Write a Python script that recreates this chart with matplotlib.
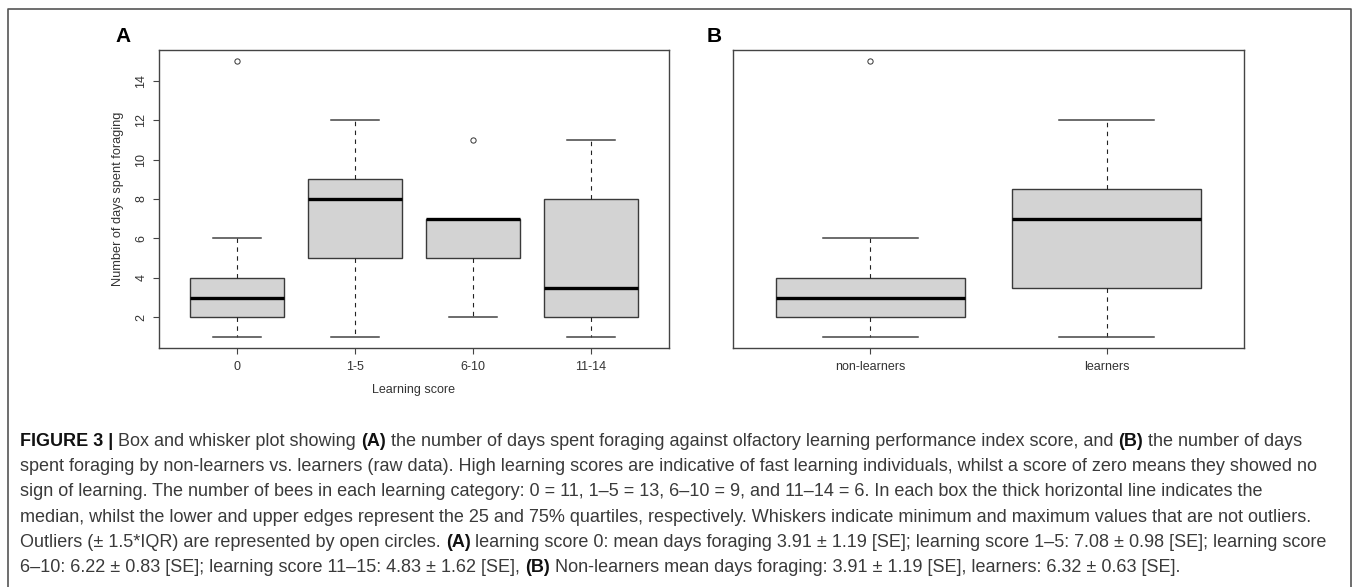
import matplotlib
matplotlib.use("Agg")
import matplotlib.pyplot as plt
from matplotlib.lines import Line2D

plt.rcParams['font.family'] = ['Liberation Sans', 'DejaVu Sans']

# panel A: days spent foraging per learning score group
score_groups = ["0", "1-5", "6-10", "11-14"]
a_low = [1, 1, 2, 1]
a_q1 = [2, 5, 5, 2]
a_med = [3, 8, 7, 3.5]
a_q3 = [4, 9, 7, 8]
a_high = [6, 12, 7, 11]
a_outliers = [[15], [], [11], []]

# panel B: non-learners vs learners
b_groups = ["non-learners", "learners"]
b_low = [1, 1]
b_q1 = [2, 3.5]
b_med = [3, 7]
b_q3 = [4, 8.5]
b_high = [6, 12]
b_outliers = [[15], []]

y_ticks = [2, 4, 6, 8, 10, 12, 14]

W, H = 1357, 587
fig = plt.figure(figsize=(W / 100, H / 100), dpi=100)


def px_axes(left, top, right, bottom):
    return fig.add_axes([left / W, 1 - bottom / H, (right - left) / W, (bottom - top) / H])


def stats(low, q1, med, q3, high, fl):
    return [dict(whislo=low[i], q1=q1[i], med=med[i], q3=q3[i], whishi=high[i], fliers=fl[i])
            for i in range(len(med))]


def draw_box(ax, st, names):
    ax.bxp(st, positions=range(1, len(st) + 1), widths=0.8, patch_artist=True,
           boxprops=dict(facecolor='#d3d3d3', edgecolor='#3a3a3a', linewidth=1.0),
           medianprops=dict(color='black', linewidth=2.4, solid_capstyle='butt'),
           whiskerprops=dict(color='#222222', linewidth=0.8, linestyle=(0, (4, 4))),
           capprops=dict(color='#444444', linewidth=1.1),
           capwidths=0.4,
           flierprops=dict(marker='o', markersize=3.8, markerfacecolor='none',
                           markeredgecolor='#333333', markeredgewidth=0.7))
    ax.set_xlim(0.5 - 0.04 * len(st), len(st) + 0.5 + 0.04 * len(st))
    ax.set_ylim(0.44, 15.56)
    ax.set_xticks(range(1, len(st) + 1))
    ax.set_xticklabels(names)
    for s in ax.spines.values():
        s.set_color('#444444')
        s.set_linewidth(1.0)
    ax.tick_params(axis='x', direction='out', length=4.5, width=0.8, color='#444444',
                   labelsize=9, labelcolor='#333333', pad=5)


axA = px_axes(159, 50, 669, 348)
draw_box(axA, stats(a_low, a_q1, a_med, a_q3, a_high, a_outliers), score_groups)
axA.set_yticks(y_ticks)
axA.tick_params(axis='y', direction='out', length=4.5, width=0.8, color='#444444',
                labelsize=9, labelcolor='#333333', pad=4, labelrotation=90)
for lab in axA.get_yticklabels():
    lab.set_va('center')
axA.set_ylabel("Number of days spent foraging", fontsize=9.2, color='#333333')
axA.yaxis.set_label_coords(-0.068, 0.5)
axA.set_xlabel("Learning score", fontsize=9, color='#333333', va='top')
axA.xaxis.set_label_coords(0.5, -0.12)

axB = px_axes(733, 50, 1244, 348)
draw_box(axB, stats(b_low, b_q1, b_med, b_q3, b_high, b_outliers), b_groups)
axB.set_yticks([])

fig.text(115 / W, 1 - 36 / H, "A", fontsize=15, fontweight='bold', va='center')
fig.text(707 / W, 1 - 36 / H, "B", fontsize=15, fontweight='bold', va='center')

# caption layer in pixel coordinates
cap = fig.add_axes([0, 0, 1, 1], zorder=-1)
cap.set_xlim(0, W)
cap.set_ylim(H, 0)
cap.axis('off')

frame = dict(color='#555555', linewidth=1.2)
cap.add_line(Line2D([7.5, 7.5, 1351, 1351], [H + 5, 8.5, 8.5, H + 5], **frame))

B = 'bold'
N = 'normal'
caption = [
    [("FIGURE 3 |", B), ("Box and whisker plot showing", N), ("(A)", B),
     ("the number of days spent foraging against olfactory learning performance index score, and", N),
     ("(B)", B), ("the number of days", N)],
    [("spent foraging by non-learners vs. learners (raw data). High learning scores are indicative of "
      "fast learning individuals, whilst a score of zero means they showed no", N)],
    [("sign of learning. The number of bees in each learning category: 0 = 11, 1\u20135 = 13, "
      "6\u201310 = 9, and 11\u201314 = 6. In each box the thick horizontal line indicates the", N)],
    [("median, whilst the lower and upper edges represent the 25 and 75% quartiles, respectively. "
      "Whiskers indicate minimum and maximum values that are not outliers.", N)],
    [("Outliers (\u00b1 1.5*IQR) are represented by open circles.", N), ("(A)", B),
     ("learning score 0: mean days foraging 3.91 \u00b1 1.19 [SE]; learning score 1\u20135: "
      "7.08 \u00b1 0.98 [SE]; learning score", N)],
    [("6\u201310: 6.22 \u00b1 0.83 [SE]; learning score 11\u201315: 4.83 \u00b1 1.62 [SE],", N), ("(B)", B),
     ("Non-learners mean days foraging: 3.91 \u00b1 1.19 [SE], learners: 6.32 \u00b1 0.63 [SE].", N)],
]

fs = 13
gap = 0.28 * fs
for i, pieces in enumerate(caption):
    y = 446 + i * 25.2
    s, w = pieces[0]
    t = cap.text(20, y, s, fontsize=fs, fontweight=w, color='#111111' if w == B else '#3a3a3a',
                 ha='left', va='baseline')
    for s, w in pieces[1:]:
        t = cap.annotate(s, xy=(1, 0), xycoords=t, xytext=(gap, 0), textcoords='offset points',
                         fontsize=fs, fontweight=w, color='#111111' if w == B else '#3a3a3a',
                         ha='left', va='bottom')

fig.savefig("out.png", dpi=100)
